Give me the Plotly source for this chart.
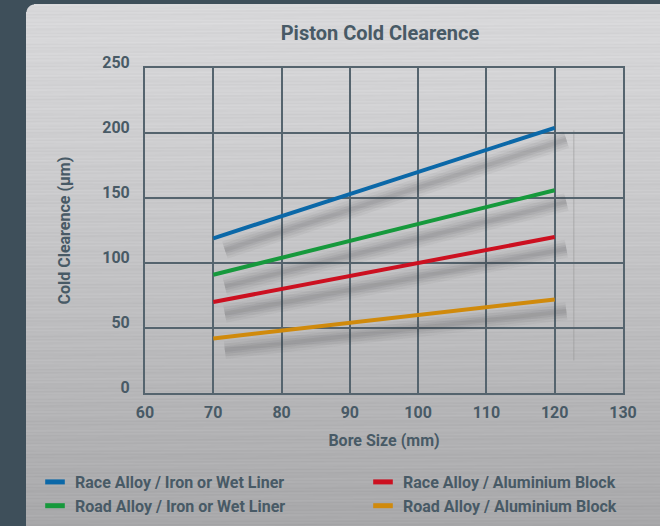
import base64
import struct
import zlib

import numpy as np
import plotly.graph_objects as go

# ---- data -------------------------------------------------------------
bore_mm = [70, 80, 90, 100, 110, 120]
race_iron = [119, 136, 153, 170, 187, 204]
road_iron = [91, 104, 117, 130, 143, 156]
race_alu = [70, 80, 90, 100, 110, 120]
road_alu = [42, 48, 54, 60, 66, 72]

x_ticks = [60, 70, 80, 90, 100, 110, 120, 130]
y_ticks = [0, 50, 100, 150, 200, 250]

series = [
    ("Race Alloy / Iron or Wet Liner", race_iron, "#0b68a8", "legend"),
    ("Road Alloy / Iron or Wet Liner", road_iron, "#16993c", "legend"),
    ("Race Alloy / Aluminium Block", race_alu, "#cc1020", "legend2"),
    ("Road Alloy / Aluminium Block", road_alu, "#d08a0c", "legend2"),
]

# ---- page geometry (pixels) ------------------------------------------
W, H = 660, 526
ML, MR, MT, MB = 145, 37, 68, 133
PW, PH = W - ML - MR, H - MT - MB
PANEL_X0, PANEL_Y0 = 26, 4

INK = "#485a66"
GRID = "#55646e"
FONT = "Roboto, 'Liberation Sans', sans-serif"


def brushed_panel_png(w, h, radius=8):
    """Silver brushed-metal plate with a rounded top-left corner."""
    yy, xx = np.mgrid[0:h, 0:w].astype(float)
    base = 216 - 48 * (yy / h) ** 1.2
    streak = (2.2 * np.sin(yy * 1.7) + 1.4 * np.sin(yy * 0.37 + 1.0)
              + 1.3 * np.sin(xx * 0.011 + yy * 2.3) + 0.8 * np.sin(xx * 0.05 + yy * 0.9))
    g = np.clip(base + streak, 0, 255)
    rgba = np.zeros((h, w, 4), dtype=np.uint8)
    rgba[..., 0] = g
    rgba[..., 1] = g
    rgba[..., 2] = np.clip(g + 2, 0, 255)
    # round the top-left corner
    d = np.hypot(xx - radius, yy - radius)
    corner = (xx < radius) & (yy < radius)
    alpha = np.clip(radius + 0.5 - d, 0, 1)
    rgba[..., 3] = np.where(corner, (alpha * 255).astype(np.uint8), 255)

    raw = b"".join(b"\x00" + rgba[i].tobytes() for i in range(h))

    def chunk(tag, data):
        c = struct.pack(">I", len(data)) + tag + data
        return c + struct.pack(">I", zlib.crc32(tag + data) & 0xFFFFFFFF)

    png = b"\x89PNG\r\n\x1a\n"
    png += chunk(b"IHDR", struct.pack(">IIBBBBB", w, h, 8, 6, 0, 0, 0))
    png += chunk(b"IDAT", zlib.compress(raw, 9))
    png += chunk(b"IEND", b"")
    return "data:image/png;base64," + base64.b64encode(png).decode()


fig = go.Figure()

# soft drop shadows under each line, offset down and to the right
dx, dy = 1.7, -9.0
for name, ys, color, lg in series:
    sx = [v + dx for v in bore_mm]
    sy = [v + dy for v in ys]
    for width, alpha in [(18, 0.05), (13, 0.065), (8, 0.075), (4, 0.08)]:
        fig.add_trace(go.Scatter(
            x=sx, y=sy, mode="lines", hoverinfo="skip", showlegend=False,
            line=dict(color=f"rgba(60,60,64,{alpha})", width=width),
        ))

# the clearance lines
for name, ys, color, lg in series:
    fig.add_trace(go.Scatter(
        x=bore_mm, y=ys, mode="lines", name=name, showlegend=False,
        line=dict(color=color, width=4),
    ))

# legend entries: short thick colour bars
for name, ys, color, lg in series:
    fig.add_trace(go.Scatter(
        x=[None], y=[None], mode="markers", name=name, legend=lg,
        marker=dict(symbol="line-ew", size=14, color=color,
                    line=dict(color=color, width=5)),
    ))

legend_style = dict(
    orientation="v", yanchor="top", xanchor="left",
    xref="container", yref="container",
    bgcolor="rgba(0,0,0,0)", borderwidth=0, itemwidth=30,
    font=dict(family=FONT, size=16, color=INK, weight="bold"),
    tracegroupgap=0,
)
LEG_TOP = 465

fig.update_layout(
    width=W, height=H,
    margin=dict(l=ML, r=MR, t=MT, b=MB, pad=0, autoexpand=False),
    paper_bgcolor="#3e4f5a",
    plot_bgcolor="rgba(0,0,0,0)",
    title=dict(text="Piston Cold Clearence", x=380 / W, xref="container", xanchor="center",
               y=1 - 33 / H, yref="container", yanchor="middle",
               font=dict(family=FONT, size=20, color=INK, weight="bold")),
    xaxis=dict(range=[60, 130], tickvals=x_ticks, showgrid=True, gridcolor=GRID, gridwidth=2,
               showline=True, linecolor=GRID, linewidth=2, mirror=True, zeroline=False,
               ticks="", ticklabelstandoff=4, automargin=False,
               tickfont=dict(family=FONT, size=16, color=INK, weight="bold"),
               title=dict(text="Bore Size (mm)", standoff=14,
                          font=dict(family=FONT, size=16, color=INK, weight="bold"))),
    yaxis=dict(range=[0, 250], tickvals=y_ticks, showgrid=True, gridcolor=GRID, gridwidth=2,
               showline=True, linecolor=GRID, linewidth=2, mirror=True, zeroline=False,
               ticks="", ticklabelstandoff=10, ticklabelshift=-6, automargin=False,
               tickfont=dict(family=FONT, size=16, color=INK, weight="bold")),
    annotations=[dict(text="Cold Clearence (µm)", textangle=-90, showarrow=False,
                      xref="paper", yref="paper", x=(64 - ML) / PW, y=0.5,
                      xanchor="center", yanchor="middle",
                      font=dict(family=FONT, size=16, color=INK, weight="bold"))],
    legend=dict(x=35 / W, y=1 - LEG_TOP / H, **legend_style),
    legend2=dict(x=363 / W, y=1 - LEG_TOP / H, **legend_style),
    images=[dict(source=brushed_panel_png(W - PANEL_X0, H - PANEL_Y0),
                 xref="paper", yref="paper",
                 x=(PANEL_X0 - ML) / PW, y=(MT + PH - PANEL_Y0) / PH,
                 sizex=(W - PANEL_X0) / PW, sizey=(H - PANEL_Y0) / PH,
                 xanchor="left", yanchor="top", sizing="stretch", layer="below")],
    shapes=[dict(type="line", xref="x", yref="y", x0=122.8, x1=122.8, y0=25, y1=202,
                 line=dict(color="rgba(150,150,150,0.6)", width=1), layer="below")],
)

fig.write_html("out.html")
